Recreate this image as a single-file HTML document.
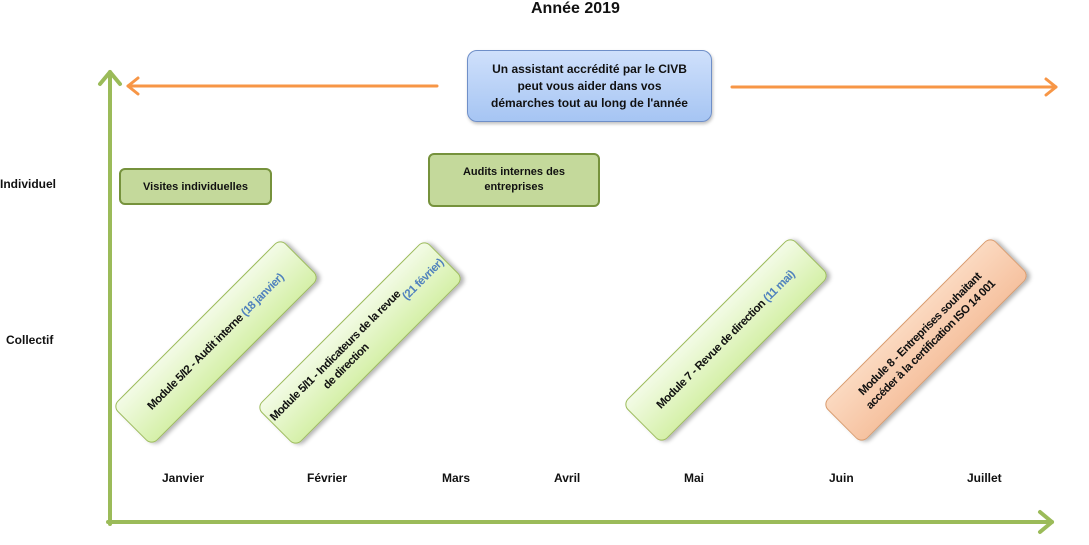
<!DOCTYPE html>
<html><head><meta charset="utf-8"><style>
body{margin:0;width:1089px;height:545px;background:#fff;position:relative;overflow:hidden;font-family:"Liberation Sans",sans-serif;font-weight:bold;color:#111}
.a{position:absolute}
.lbl{font-size:12px}
.g{background:#c4d99b;border:2.5px solid #76923c;border-radius:6px;text-align:center;font-size:11px;box-sizing:border-box;display:flex;align-items:center;justify-content:center}
.r{position:absolute;width:238px;height:56px;border-radius:8px;border:1px solid #9bbb59;background:linear-gradient(#f3fbe6,#d5f0a8);box-shadow:2px 3px 4px rgba(0,0,0,.3);display:flex;align-items:center;justify-content:center;text-align:center;font-size:11.5px;letter-spacing:-0.5px;line-height:15px;white-space:nowrap;transform:rotate(-45deg);box-sizing:border-box;padding:0 2px}
.b{color:#4f81bd}
</style></head><body>
<div class="a" style="left:531px;top:0;font-size:16px">Année 2019</div>
<svg class="a" style="left:0;top:0" width="1089" height="545" fill="none" stroke-linecap="round" stroke-linejoin="round">
<g stroke="#f79646" stroke-width="3">
<line x1="437" y1="86" x2="128" y2="86"/><polyline points="138,78 128,86 138,94"/>
<line x1="732" y1="87" x2="1056" y2="87"/><polyline points="1046,79 1056,87 1046,95"/>
</g>
<g stroke="#9bbb59" stroke-width="4">
<line x1="110" y1="524" x2="110" y2="72"/><polyline points="100,84 110,72 120,84"/>
<line x1="108" y1="522" x2="1052" y2="522"/><polyline points="1040,512 1052,522 1040,532"/>
</g>
</svg>
<div class="a" style="left:467px;top:50px;width:245px;height:72px;border:1px solid #6f8fc8;border-radius:10px;background:linear-gradient(#cfe0fb,#a6c5f3);box-sizing:border-box;display:flex;align-items:center;justify-content:center;text-align:center;font-size:12px;line-height:17px;box-shadow:1px 2px 3px rgba(0,0,0,.25)">Un assistant accrédité par le CIVB<br>peut vous aider dans vos<br>démarches tout au long de l'année</div>
<div class="a lbl" style="left:0;top:177px">Individuel</div>
<div class="a lbl" style="left:6px;top:333px">Collectif</div>
<div class="a g" style="left:119px;top:168px;width:153px;height:37px">Visites individuelles</div>
<div class="a g" style="left:428px;top:153px;width:172px;height:54px;line-height:15px">Audits internes des<br>entreprises</div>
<div class="r" style="left:97px;top:314px">Module 5/I2 - Audit interne&nbsp;<span class="b">(18 janvier)</span></div>
<div class="r" style="left:241px;top:315px">Module 5/I1 - Indicateurs de la revue<br>de direction <span class="b">(21 février)</span></div>
<div class="r" style="left:607px;top:312px">Module 7 - Revue de direction&nbsp;<span class="b">(11 mai)</span></div>
<div class="r" style="left:807px;top:312px;background:linear-gradient(#fbd9c0,#f6c2a0);border-color:#d99a6c">Module 8 - Entreprises souhaitant<br>accéder à la certification ISO 14 001</div>
<div class="a lbl" style="left:162px;top:471px">Janvier</div>
<div class="a lbl" style="left:307px;top:471px">Février</div>
<div class="a lbl" style="left:442px;top:471px">Mars</div>
<div class="a lbl" style="left:554px;top:471px">Avril</div>
<div class="a lbl" style="left:684px;top:471px">Mai</div>
<div class="a lbl" style="left:829px;top:471px">Juin</div>
<div class="a lbl" style="left:967px;top:471px">Juillet</div>
</body></html>
